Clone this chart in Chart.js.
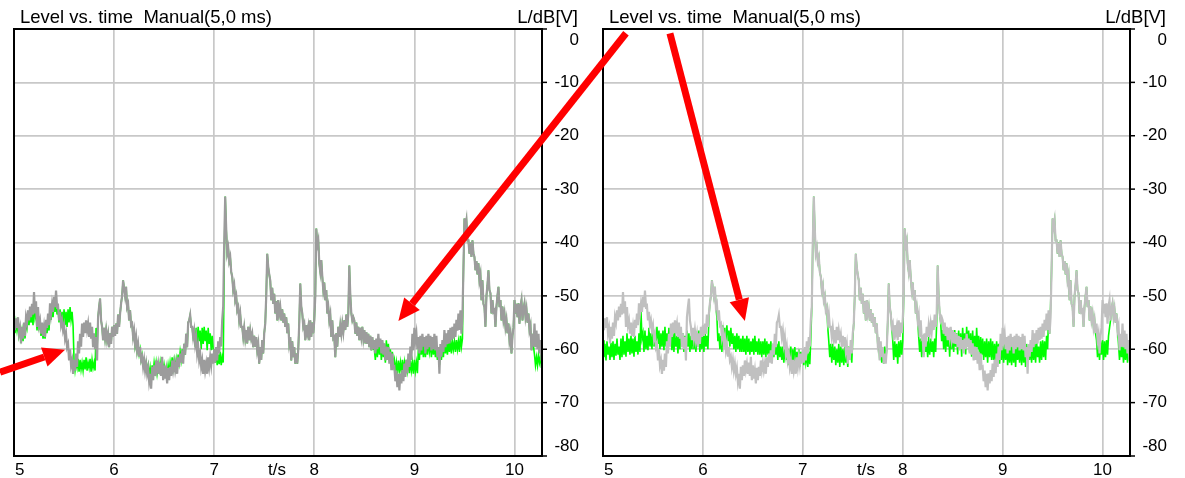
<!DOCTYPE html>
<html>
<head>
<meta charset="utf-8">
<script src="https://cdn.jsdelivr.net/npm/chart.js@4.4.1/dist/chart.umd.min.js"></script>
<style>
  html, body { margin: 0; padding: 0; background: #fff; }
  #wrap { position: relative; width: 1185px; height: 478px; overflow: hidden; }
  .panel { position: absolute; top: 0; }
  #c1 { left: 0; }
  #c2 { left: 588px; }
  #arrows { position: absolute; left: 0; top: 0; pointer-events: none; }
</style>
</head>
<body>
<div id="wrap">
  <canvas id="c1" class="panel" width="590" height="478"></canvas>
  <canvas id="c2" class="panel" width="597" height="478"></canvas>
  <canvas id="arrows" width="1185" height="478"></canvas>
</div>
<script>
// sampling of the level traces: t = T0 + i * DT (seconds), one row = 0.1 s
const T0 = 5.0;
const DT = 0.01;

const X_TICKS = [5, 6, 7, 8, 9, 10];
const Y_TICKS = [0, -10, -20, -30, -40, -50, -60, -70, -80];
const TITLE = 'Level vs. time  Manual(5,0 ms)';
const Y_UNIT = 'L/dB[V]';
const X_UNIT = 't/s';

// gray trace (same measurement in both panels), dB
const levelGray = [
  -54.6, -56.4, -54.2, -56.0, -54.0, -57.0, -56.0, -58.9, -55.8, -58.0,
  -55.0, -57.5, -54.0, -55.0, -52.7, -54.6, -52.0, -54.0, -51.5, -53.5,
  -49.3, -53.3, -51.0, -55.8, -52.1, -55.5, -54.6, -57.1, -55.0, -57.5,
  -55.8, -57.7, -54.5, -56.0, -53.3, -55.5, -51.4, -53.3, -51.5, -53.0,
  -50.2, -52.1, -49.0, -52.0, -51.8, -54.6, -53.0, -55.5, -54.6, -56.4,
  -55.5, -58.0, -57.1, -59.6, -59.0, -62.1, -60.0, -63.0, -62.1, -64.6,
  -62.0, -64.0, -60.8, -63.3, -58.5, -60.8, -57.1, -59.5, -55.2, -57.7,
  -55.0, -57.0, -54.6, -56.4, -55.2, -57.7, -55.0, -58.0, -55.8, -59.6,
  -57.0, -60.0, -57.7, -62.1, -54.0, -52.1, -50.5, -54.6, -55.8, -58.3,
  -56.0, -58.0, -56.4, -58.3, -57.1, -59.6, -57.0, -59.0, -55.8, -57.7,
  -55.5, -57.5, -55.2, -57.1, -53.5, -55.8, -53.3, -51.4, -50.0, -47.1,
  -48.5, -50.0, -48.3, -52.1, -51.5, -54.6, -52.7, -55.5, -55.2, -57.7,
  -56.5, -59.0, -57.7, -60.2, -59.0, -61.4, -59.6, -62.0, -61.4, -63.3,
  -62.0, -64.0, -62.7, -64.6, -63.5, -66.0, -64.6, -67.4, -63.3, -65.8,
  -63.0, -65.0, -62.1, -63.9, -62.7, -64.6, -62.5, -65.0, -61.4, -65.8,
  -63.0, -65.5, -64.0, -66.4, -63.5, -65.8, -63.3, -65.0, -62.1, -63.9,
  -62.5, -64.0, -62.7, -64.6, -61.5, -63.3, -60.8, -62.5, -60.2, -62.7,
  -59.0, -61.0, -57.1, -59.6, -55.0, -54.6, -53.6, -55.8, -55.8, -57.7,
  -56.5, -59.0, -57.7, -60.8, -59.5, -62.0, -60.8, -63.3, -62.1, -64.6,
  -62.0, -64.0, -62.7, -64.6, -61.5, -63.3, -61.4, -63.0, -60.8, -62.7,
  -60.0, -62.5, -59.6, -62.1, -58.5, -60.8, -57.7, -59.5, -54.6, -52.0,
  -40.0, -31.4, -37.5, -42.0, -41.0, -43.5, -42.7, -45.5, -46.4, -48.9,
  -48.0, -50.8, -50.0, -52.7, -52.1, -54.6, -53.3, -55.8, -55.8, -57.7,
  -56.0, -58.0, -56.4, -58.9, -55.8, -58.3, -56.5, -58.0, -57.1, -59.6,
  -57.5, -59.5, -57.7, -60.2, -59.0, -62.7, -59.6, -62.0, -58.3, -60.8,
  -57.0, -55.2, -50.0, -42.1, -44.6, -46.0, -47.1, -50.8, -48.5, -51.5,
  -49.6, -53.3, -51.0, -54.6, -50.8, -53.3, -52.1, -54.6, -52.5, -55.0,
  -53.3, -55.8, -54.0, -57.0, -55.2, -58.9, -57.7, -62.1, -58.5, -61.5,
  -59.6, -62.7, -60.8, -62.7, -60.0, -55.0, -47.7, -52.0, -53.3, -55.8,
  -55.2, -58.3, -55.5, -57.0, -55.8, -58.3, -54.6, -57.7, -55.0, -57.0,
  -54.6, -50.0, -37.4, -40.5, -39.6, -43.9, -45.5, -43.3, -46.4, -48.9,
  -47.5, -50.8, -48.9, -53.3, -52.1, -54.6, -53.5, -57.7, -54.6, -58.0,
  -57.7, -61.5, -57.0, -59.5, -55.8, -57.7, -55.5, -57.1, -55.2, -56.8,
  -54.6, -56.4, -53.5, -55.8, -53.3, -44.3, -50.0, -53.3, -54.6, -54.0,
  -54.6, -57.1, -55.0, -57.5, -55.8, -58.3, -56.0, -57.7, -55.8, -58.0,
  -56.4, -58.9, -56.8, -59.0, -57.1, -59.6, -57.5, -60.2, -57.7, -60.0,
  -58.3, -60.8, -58.0, -60.0, -57.1, -59.6, -58.0, -60.8, -58.3, -61.0,
  -58.9, -62.1, -59.5, -62.0, -59.6, -62.7, -60.5, -63.9, -60.8, -63.5,
  -63.3, -66.0, -64.0, -67.1, -64.6, -67.7, -64.5, -66.4, -63.9, -66.0,
  -62.7, -65.2, -62.0, -64.5, -60.8, -63.3, -59.5, -62.0, -57.1, -60.2,
  -56.0, -58.3, -57.0, -60.0, -57.7, -60.8, -57.5, -60.2, -57.1, -59.5,
  -57.7, -60.8, -57.5, -60.0, -57.1, -59.6, -57.5, -60.2, -57.7, -60.0,
  -57.1, -60.2, -57.5, -61.5, -59.6, -64.6, -59.0, -61.4, -58.3, -60.5,
  -56.4, -59.6, -57.0, -59.0, -56.4, -58.9, -56.0, -58.3, -55.8, -58.0,
  -55.2, -57.7, -54.5, -56.5, -53.3, -56.4, -52.7, -57.1, -54.0, -45.0,
  -35.5, -37.0, -35.8, -39.6, -39.6, -42.1, -40.0, -42.7, -39.6, -42.0,
  -42.7, -45.2, -43.5, -46.0, -43.9, -47.1, -46.0, -50.8, -47.1, -51.5,
  -52.1, -55.8, -50.0, -48.0, -45.2, -48.9, -49.5, -53.3, -50.8, -53.0,
  -52.7, -55.8, -52.0, -50.0, -48.3, -52.1, -50.8, -54.6, -52.0, -54.5,
  -53.3, -55.8, -54.5, -57.0, -55.2, -58.3, -57.1, -60.8, -57.5, -56.0,
  -50.8, -53.3, -51.5, -54.0, -51.4, -55.2, -52.0, -50.8, -54.6, -52.5,
  -51.4, -53.9, -52.5, -55.0, -53.3, -56.4, -55.5, -60.2, -57.1, -59.5,
  -55.2, -59.6, -56.5, -60.0, -57.1, -60.8, -58.3, -62.1
];

// green trace, left panel
const levelGreenLeft = [
  -55.0, -57.0, -55.0, -56.5, -55.0, -57.5, -56.5, -58.0, -56.5, -58.5,
  -55.5, -58.0, -55.0, -56.0, -54.0, -55.5, -53.0, -55.0, -53.0, -55.5,
  -50.5, -54.0, -53.0, -56.5, -53.5, -56.0, -55.5, -57.5, -55.5, -58.0,
  -56.5, -58.0, -55.5, -57.0, -54.5, -56.5, -52.5, -54.5, -52.5, -54.0,
  -51.5, -53.0, -50.5, -53.5, -52.0, -55.0, -52.5, -55.5, -53.0, -55.8,
  -52.5, -55.5, -53.0, -55.8, -52.5, -55.0, -52.1, -54.5, -53.0, -55.5,
  -62.1, -64.0, -62.5, -63.5, -61.8, -64.2, -62.0, -63.8, -62.5, -64.0,
  -62.0, -63.8, -61.5, -64.0, -62.5, -63.5, -61.8, -64.2, -62.0, -63.5,
  -62.5, -64.0, -56.0, -60.0, -54.0, -52.1, -50.5, -54.6, -55.8, -58.3,
  -56.0, -58.0, -56.4, -58.3, -57.1, -59.6, -57.0, -59.0, -55.8, -57.7,
  -55.5, -57.5, -55.2, -57.1, -53.5, -55.8, -53.3, -51.4, -50.0, -47.1,
  -48.5, -50.0, -48.3, -52.1, -51.5, -54.6, -52.7, -55.5, -55.2, -57.7,
  -57.0, -59.5, -58.5, -60.5, -59.5, -61.0, -60.0, -62.0, -61.0, -62.5,
  -62.0, -63.5, -62.5, -64.0, -63.0, -65.0, -63.5, -65.5, -63.0, -64.5,
  -62.5, -64.0, -62.5, -64.5, -63.0, -64.0, -62.5, -64.5, -62.0, -64.5,
  -63.0, -64.5, -63.5, -65.0, -63.0, -64.5, -62.5, -64.0, -61.5, -63.5,
  -62.0, -63.5, -62.0, -64.0, -61.0, -62.5, -60.5, -62.0, -60.0, -62.0,
  -59.0, -61.0, -57.1, -59.6, -55.0, -54.6, -53.6, -55.8, -55.8, -57.7,
  -57.0, -59.5, -56.0, -59.0, -55.8, -58.5, -56.5, -60.0, -56.0, -59.0,
  -55.8, -58.5, -56.5, -60.2, -56.0, -59.0, -57.0, -60.2, -57.5, -60.0,
  -60.2, -62.5, -60.5, -63.0, -61.0, -62.8, -60.5, -63.0, -61.5, -62.5,
  -45.0, -31.4, -37.5, -42.0, -41.0, -43.5, -42.7, -45.5, -46.4, -48.9,
  -48.0, -50.8, -50.0, -52.7, -52.1, -54.6, -53.3, -55.8, -55.8, -57.7,
  -56.0, -58.0, -56.4, -58.9, -55.8, -58.3, -56.5, -58.0, -57.1, -59.6,
  -57.5, -59.5, -57.7, -60.2, -59.0, -62.7, -59.6, -62.0, -58.3, -60.8,
  -57.0, -55.2, -50.0, -42.1, -44.6, -46.0, -47.1, -50.8, -48.5, -51.5,
  -49.6, -53.3, -51.0, -54.6, -50.8, -53.3, -52.1, -54.6, -52.5, -55.0,
  -53.3, -55.8, -54.0, -57.0, -55.2, -58.9, -57.7, -62.1, -58.5, -61.5,
  -59.6, -62.7, -60.8, -62.7, -60.0, -55.0, -47.7, -52.0, -53.3, -55.8,
  -55.2, -58.3, -55.5, -57.0, -55.8, -58.3, -54.6, -57.7, -55.0, -57.0,
  -54.6, -50.0, -37.4, -40.5, -39.6, -43.9, -45.5, -43.3, -46.4, -48.9,
  -47.5, -50.8, -48.9, -53.3, -52.1, -54.6, -53.5, -57.7, -54.6, -58.0,
  -57.7, -61.5, -57.0, -59.5, -55.8, -57.7, -55.5, -57.1, -55.2, -56.8,
  -54.6, -56.4, -53.5, -55.8, -53.3, -44.3, -50.0, -53.3, -54.6, -54.0,
  -54.6, -57.1, -55.0, -57.5, -55.8, -58.3, -56.0, -57.7, -55.8, -58.0,
  -56.4, -58.9, -56.8, -59.0, -57.1, -59.6, -57.5, -60.2, -57.7, -60.0,
  -60.0, -62.0, -58.5, -61.5, -58.0, -61.0, -59.0, -62.0, -58.5, -61.5,
  -59.0, -62.5, -58.3, -61.5, -59.0, -62.0, -60.0, -62.5, -60.5, -63.0,
  -62.0, -64.0, -62.5, -64.6, -62.1, -64.0, -62.5, -64.5, -62.0, -64.0,
  -62.5, -64.6, -62.0, -64.0, -62.5, -64.5, -62.1, -64.0, -62.5, -64.6,
  -62.0, -64.0, -62.5, -64.5, -60.0, -62.0, -58.5, -61.0, -59.0, -61.5,
  -59.0, -61.5, -58.5, -61.0, -58.5, -60.5, -59.0, -61.5, -58.5, -61.0,
  -59.0, -61.5, -59.5, -62.0, -60.5, -63.0, -60.0, -62.0, -59.5, -61.5,
  -58.3, -60.8, -59.0, -61.0, -58.5, -60.5, -58.3, -60.8, -58.5, -60.0,
  -58.5, -60.5, -58.3, -60.0, -58.5, -60.5, -57.5, -59.5, -58.0, -45.0,
  -35.5, -37.0, -35.8, -39.6, -39.6, -42.1, -40.0, -42.7, -39.6, -42.0,
  -42.7, -45.2, -43.5, -46.0, -43.9, -47.1, -46.0, -50.8, -47.1, -51.5,
  -52.1, -55.8, -50.0, -48.0, -45.2, -48.9, -49.5, -53.3, -50.8, -53.0,
  -52.7, -55.8, -52.0, -50.0, -48.3, -52.1, -50.8, -54.6, -52.0, -54.5,
  -53.3, -55.8, -54.5, -57.0, -55.2, -58.3, -57.1, -60.8, -57.5, -56.0,
  -50.8, -53.3, -51.5, -54.0, -51.4, -55.2, -52.0, -50.8, -54.6, -52.5,
  -51.4, -53.9, -52.5, -55.0, -53.3, -56.4, -55.5, -60.2, -57.1, -59.5,
  -61.0, -63.0, -61.5, -63.0, -61.0, -62.5, -61.5, -63.5
];

// green trace, right panel
const levelGreenRight = [
  -58.3, -61.5, -59.0, -62.1, -58.5, -61.0, -59.5, -62.0, -58.8, -61.5,
  -58.5, -62.0, -59.0, -61.2, -58.0, -61.0, -59.5, -62.0, -58.0, -61.5,
  -57.5, -61.0, -58.5, -61.4, -57.0, -60.5, -58.0, -61.0, -57.5, -60.8,
  -58.0, -61.4, -57.5, -60.5, -58.5, -61.0, -57.0, -60.5, -52.7, -58.0,
  -57.0, -60.5, -56.5, -60.0, -57.5, -60.2, -56.0, -59.5, -57.0, -60.0,
  -56.0, -59.5, -57.0, -60.2, -55.8, -59.0, -56.5, -60.0, -57.0, -59.5,
  -56.5, -60.2, -55.8, -59.5, -57.0, -60.0, -56.0, -59.0, -57.5, -60.2,
  -57.0, -60.5, -56.5, -59.5, -57.5, -60.8, -57.0, -60.0, -56.5, -59.5,
  -57.0, -60.5, -57.5, -60.0, -56.5, -59.5, -57.0, -60.5, -57.5, -60.0,
  -56.5, -60.0, -57.5, -60.5, -57.0, -59.5, -56.5, -60.5, -57.0, -60.0,
  -57.0, -60.5, -56.5, -59.5, -57.5, -60.0, -54.0, -51.4, -50.0, -47.1,
  -48.5, -50.0, -48.3, -52.1, -54.0, -58.5, -57.0, -60.0, -57.5, -60.5,
  -55.5, -59.0, -56.0, -59.6, -55.5, -58.5, -56.5, -59.5, -56.0, -59.0,
  -57.0, -60.0, -57.5, -60.5, -57.0, -60.0, -57.5, -60.5, -58.0, -60.5,
  -57.5, -60.5, -58.0, -61.0, -57.5, -60.5, -58.0, -61.0, -58.5, -60.5,
  -58.0, -61.0, -57.5, -60.5, -58.5, -61.0, -58.0, -61.0, -58.5, -61.5,
  -58.5, -61.0, -58.0, -61.5, -58.5, -61.0, -59.0, -61.5, -58.5, -61.0,
  -59.0, -61.5, -58.5, -61.0, -59.0, -62.0, -58.5, -61.5, -59.5, -62.0,
  -59.5, -62.5, -60.0, -62.0, -59.6, -63.0, -60.0, -62.5, -59.5, -63.3,
  -60.0, -62.5, -59.6, -63.0, -60.5, -62.5, -60.0, -63.3, -60.5, -62.5,
  -60.2, -63.0, -60.5, -62.5, -61.0, -63.3, -60.5, -62.8, -58.0, -52.0,
  -40.0, -31.4, -37.5, -42.0, -41.0, -43.5, -42.7, -45.5, -46.4, -48.9,
  -48.0, -50.8, -50.0, -52.7, -52.1, -56.0, -58.5, -61.5, -59.0, -62.5,
  -59.0, -62.0, -59.5, -63.0, -60.0, -62.5, -59.0, -63.3, -59.5, -62.5,
  -60.0, -63.0, -59.5, -62.5, -60.5, -63.3, -59.5, -62.0, -60.0, -62.5,
  -58.0, -55.2, -50.0, -42.1, -44.6, -46.0, -47.1, -50.8, -48.5, -51.5,
  -49.6, -53.3, -51.0, -54.6, -50.8, -53.3, -52.1, -54.6, -52.5, -55.0,
  -53.3, -55.8, -54.0, -57.0, -55.2, -58.9, -58.5, -62.0, -60.0, -62.5,
  -60.0, -62.7, -59.5, -62.0, -60.0, -55.0, -47.7, -52.0, -53.3, -55.8,
  -58.3, -62.0, -58.5, -61.5, -59.0, -62.7, -58.5, -61.5, -58.3, -61.0,
  -58.5, -50.0, -37.4, -40.5, -39.6, -43.9, -45.5, -43.3, -46.4, -48.9,
  -47.5, -50.8, -48.9, -53.3, -52.1, -54.6, -57.7, -60.5, -58.0, -61.5,
  -57.7, -61.0, -58.0, -60.5, -58.5, -61.5, -57.7, -61.0, -58.0, -60.5,
  -58.5, -61.5, -58.0, -60.5, -55.0, -44.3, -50.0, -53.3, -55.0, -58.5,
  -56.4, -60.0, -57.0, -60.5, -56.5, -59.5, -57.0, -61.4, -56.4, -60.0,
  -57.0, -60.5, -56.4, -59.5, -57.0, -61.0, -56.5, -60.0, -57.0, -61.4,
  -56.0, -60.0, -57.0, -61.0, -55.8, -59.5, -56.5, -60.5, -57.0, -61.4,
  -56.5, -60.5, -57.5, -61.0, -56.0, -60.0, -57.5, -61.5, -57.7, -61.0,
  -58.0, -62.0, -58.5, -61.5, -58.0, -62.5, -58.5, -61.5, -58.0, -62.0,
  -58.5, -62.0, -59.0, -62.5, -58.5, -61.5, -59.0, -62.7, -58.5, -62.0,
  -58.3, -62.5, -59.0, -62.0, -58.5, -63.0, -59.0, -62.5, -59.5, -63.0,
  -58.5, -62.5, -59.5, -63.3, -59.0, -62.0, -59.5, -62.5, -58.5, -63.0,
  -59.0, -62.5, -59.5, -63.3, -59.0, -62.5, -59.5, -62.0, -59.0, -62.5,
  -58.5, -62.0, -59.0, -62.5, -58.5, -61.5, -59.5, -62.5, -58.5, -62.0,
  -58.3, -61.5, -58.5, -62.0, -57.5, -60.0, -54.0, -57.1, -52.0, -45.0,
  -35.5, -37.0, -35.8, -39.6, -39.6, -42.1, -40.0, -42.7, -39.6, -42.0,
  -42.7, -45.2, -43.5, -46.0, -43.9, -47.1, -46.0, -50.8, -47.1, -51.5,
  -52.1, -55.8, -50.0, -48.0, -45.2, -48.9, -49.5, -53.3, -50.8, -53.0,
  -52.7, -55.8, -52.0, -50.0, -48.3, -52.1, -50.8, -54.6, -52.0, -54.5,
  -53.3, -55.8, -54.5, -57.0, -58.3, -61.5, -58.0, -62.0, -58.5, -61.0,
  -58.3, -62.0, -58.5, -61.5, -58.3, -61.0, -57.5, -56.0, -54.6, -52.5,
  -51.4, -53.9, -52.5, -55.0, -53.3, -56.4, -59.0, -62.0, -59.5, -61.5,
  -59.0, -62.5, -59.5, -62.0, -58.8, -62.5, -59.0, -62.1
];

// red annotation arrows, given in panel data coordinates [panel, t, L]
const ARROW_MARKS = [
  { from: [0, 4.86, -64.3], to: [0, 5.51, -60.1] },
  { from: [1, 5.23, -0.8], to: [0, 8.84, -54.7] },
  { from: [1, 5.67, -0.8], to: [1, 6.42, -54.7] }
];

const FAMILY = '"Liberation Sans", Arial, Helvetica, sans-serif';

function toPoints(values) {
  return values.map((v, i) => ({ x: T0 + i * DT, y: v }));
}

const framePlugin = {
  id: 'frame',
  afterDraw(chart) {
    const { ctx, chartArea: a, scales: { x, y } } = chart;
    ctx.save();
    ctx.strokeStyle = '#000';
    ctx.lineWidth = 2;
    ctx.strokeRect(a.left, a.top, a.right - a.left, a.bottom - a.top);

    ctx.font = '17px ' + FAMILY;
    ctx.fillStyle = '#000';
    ctx.lineWidth = 1.5;
    ctx.textAlign = 'right';
    ctx.textBaseline = 'middle';
    Y_TICKS.forEach(v => {
      const py = y.getPixelForValue(v);
      ctx.beginPath();
      ctx.moveTo(a.right, py);
      ctx.lineTo(a.right + 5, py);
      ctx.stroke();
      const ly = Math.min(Math.max(py, a.top + 11), a.bottom - 10);
      ctx.fillText(String(v), a.right + 37, ly);
    });

    ctx.textBaseline = 'alphabetic';
    X_TICKS.forEach((t, i) => {
      ctx.textAlign = i === 0 ? 'left' : 'center';
      ctx.fillText(String(t), x.getPixelForValue(t) + (i === 0 ? 1 : 0), a.bottom + 19);
    });
    ctx.textAlign = 'center';
    ctx.fillText(X_UNIT, a.left + 263, a.bottom + 19);

    ctx.font = '18.5px ' + FAMILY;
    ctx.textAlign = 'left';
    ctx.fillText(TITLE, a.left + 6, 23);
    ctx.textAlign = 'right';
    ctx.fillText(Y_UNIT, a.right + 36, 23);
    ctx.restore();
  }
};

function makePanel(id, greenValues, grayColor, padLeft, axisWidth) {
  return new Chart(document.getElementById(id), {
    type: 'line',
    data: {
      datasets: [
        { data: toPoints(levelGray), borderColor: grayColor, borderWidth: 2.2 },
        { data: toPoints(greenValues), borderColor: '#00ff00', borderWidth: 1.6 }
      ]
    },
    options: {
      responsive: false,
      animation: false,
      events: [],
      layout: { padding: { left: padLeft, top: 29, right: 0, bottom: 0 } },
      elements: { point: { radius: 0 }, line: { tension: 0, fill: false } },
      plugins: { legend: { display: false }, tooltip: { enabled: false } },
      scales: {
        x: {
          type: 'linear', min: 5, max: 10.275,
          ticks: { display: false, stepSize: 1, includeBounds: false },
          grid: { color: '#c8c8c8', lineWidth: 1.7, drawTicks: false },
          border: { display: false },
          afterFit: s => { s.height = 22; }
        },
        y: {
          position: 'right', min: -80, max: 0,
          ticks: { display: false, stepSize: 10 },
          grid: { color: '#c8c8c8', lineWidth: 1.7, drawTicks: false },
          border: { display: false },
          afterFit: s => { s.width = axisWidth; }
        }
      }
    },
    plugins: [framePlugin]
  });
}

const panels = [
  { chart: makePanel('c1', levelGreenLeft, '#9c9c9c', 14, 48), offset: 0 },
  { chart: makePanel('c2', levelGreenRight, '#c0c0c0', 15, 55), offset: 588 }
];

function pagePoint([p, t, L]) {
  const { chart, offset } = panels[p];
  return [offset + chart.scales.x.getPixelForValue(t), chart.scales.y.getPixelForValue(L)];
}

function drawArrows() {
  const ctx = document.getElementById('arrows').getContext('2d');
  ctx.fillStyle = '#ff0000';
  ctx.strokeStyle = '#ff0000';
  ARROW_MARKS.forEach(a => {
    const [x0, y0] = pagePoint(a.from);
    const [x1, y1] = pagePoint(a.to);
    const ang = Math.atan2(y1 - y0, x1 - x0);
    const headLen = 22, headHalf = 10;
    const bx = x1 - headLen * Math.cos(ang), by = y1 - headLen * Math.sin(ang);
    ctx.lineWidth = 7;
    ctx.beginPath();
    ctx.moveTo(x0, y0);
    ctx.lineTo(bx, by);
    ctx.stroke();
    ctx.beginPath();
    ctx.moveTo(x1, y1);
    ctx.lineTo(bx + headHalf * Math.sin(ang), by - headHalf * Math.cos(ang));
    ctx.lineTo(bx - headHalf * Math.sin(ang), by + headHalf * Math.cos(ang));
    ctx.closePath();
    ctx.fill();
  });
}

drawArrows();
</script>
</body>
</html>
